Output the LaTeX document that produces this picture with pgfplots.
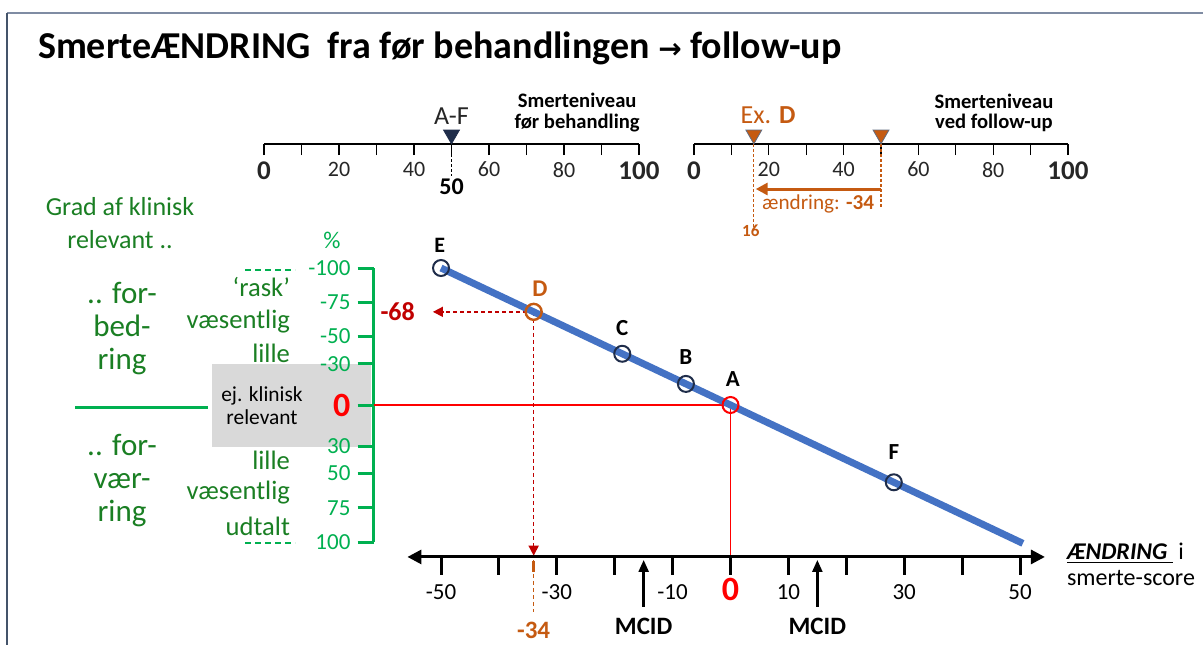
\documentclass[border=0pt]{standalone}
\usepackage{pgfplots}
\pgfplotsset{compat=1.18}
\usepackage{fontspec}
\setmainfont{Carlito}
\newfontfamily\dejavu{DejaVu Sans}
\usetikzlibrary{arrows.meta}

\definecolor{lineblue}{HTML}{4472C4}
\definecolor{navy}{HTML}{1F2D4A}
\definecolor{exorange}{HTML}{C55A11}
\definecolor{darkred}{HTML}{C00000}
\definecolor{ltgreen}{HTML}{00B050}
\definecolor{dkgreen}{HTML}{1A7F23}
\definecolor{boxgray}{HTML}{D9D9D9}
\definecolor{frametop}{HTML}{7F8CA3}
\definecolor{frameleft}{HTML}{44546A}

\newcommand{\fs}[2]{\fontsize{#1}{#2}\selectfont}

\begin{document}
\begin{tikzpicture}
\fill[white] (0,0) rectangle (601.5pt,322.5pt);

% grey box behind the green scale (pixel coordinates, y downwards)
\begin{scope}[x=0.5pt, y=-0.5pt, shift={(0pt,322.5pt)}]
  \fill[boxgray] (212,364) rectangle (371,447);
\end{scope}

% main chart: x = change in pain score, y = % change
\begin{axis}[
    at={(348.375pt,120pt)}, anchor=center,
    scale only axis, width=323.25pt, height=137pt,
    xmin=-61.66, xmax=50, ymin=-100, ymax=100, y dir=reverse,
    hide x axis, axis y line*=left,
    y axis line style={ltgreen, line width=1.5pt},
    ytick={-100,-75,-50,-30,0,30,50,75,100},
    yticklabels={-100,-75,-50,-30,{\fs{17pt}{17pt}\bfseries\color{red}0},30,50,75,100},
    yticklabel style={text=ltgreen, font=\fs{11.5pt}{12pt}},
    ytick style={ltgreen, line width=1.5pt},
    tick align=outside, major tick length=8pt,
    clip=false,
  ]
  % guide lines through A
  \draw[red, line width=0.6pt] (axis cs:-61.66,0) -- (axis cs:0,0) -- (axis cs:0,110.9);
  % guide lines through D
  \draw[darkred, dash pattern=on 2pt off 1.5pt, line width=0.8pt, -{Triangle[length=5pt,width=5pt]}]
    (axis cs:-34,-68) -- (axis cs:-51.4,-68);
  \draw[darkred, dash pattern=on 2pt off 1.5pt, line width=0.8pt, -{Triangle[length=5pt,width=5pt]}]
    (axis cs:-34,-68) -- (axis cs:-34,110);
  \draw[exorange, dash pattern=on 2pt off 1.5pt, line width=0.6pt] (axis cs:-34,113) -- (axis cs:-34,151);

  \addplot[lineblue, line width=3.5pt] coordinates {(-50,-100) (50.5,101)};
  \addplot[only marks, mark=o, mark size=4pt, mark options={navy, line width=1pt}]
    coordinates {(-50,-100) (-18.7,-37.4) (-7.7,-15.4) (28.2,56.4)};
  \addplot[only marks, mark=o, mark size=4pt, mark options={exorange, line width=1.2pt}]
    coordinates {(-34,-68)};
  \addplot[only marks, mark=o, mark size=4pt, mark options={red, line width=1pt}]
    coordinates {(0,0)};

  % point labels
  \node[font=\fs{11pt}{12pt}\bfseries] at (axis cs:-50.2,-116.8) {E};
  \node[font=\fs{12pt}{12pt}\bfseries, exorange] at (axis cs:-32.9,-84.7) {D};
  \node[font=\fs{11.5pt}{12pt}\bfseries] at (axis cs:-18.7,-56.2) {C};
  \node[font=\fs{11.5pt}{12pt}\bfseries] at (axis cs:-7.7,-35) {B};
  \node[font=\fs{11.5pt}{12pt}\bfseries] at (axis cs:0.4,-19) {A};
  \node[font=\fs{11.5pt}{12pt}\bfseries] at (axis cs:28.2,34.3) {F};
  \node[anchor=east, font=\fs{13pt}{13pt}\bfseries, darkred] at (axis cs:-53.3,-68) {-68};

  % horizontal change axis
  \draw[line width=1.5pt, {Triangle[length=7pt,width=7pt]}-{Triangle[length=7pt,width=7pt]}]
    (axis cs:-55.8,110.9) -- (axis cs:54.3,110.9);
  \pgfplotsinvokeforeach{-50,-40,...,50}{
    \draw[line width=1.5pt] (axis cs:#1,110.9) -- (axis cs:#1,124);
  }
  \pgfplotsinvokeforeach{-50,-30,-10,10,30,50}{
    \node[font=\fs{11.5pt}{12pt}] at (axis cs:#1,136.5) {#1};
  }
  \node[font=\fs{17pt}{17pt}\bfseries, red] at (axis cs:0,135) {0};
  \draw[exorange, line width=1.5pt] (axis cs:-34,113.5) -- (axis cs:-34,122);
  \node[font=\fs{12.5pt}{13pt}\bfseries, exorange] at (axis cs:-34,164.2) {-34};
  \pgfplotsinvokeforeach{-15,15}{
    \draw[line width=1.2pt, -{Triangle[length=6pt,width=5pt]}] (axis cs:#1,147.4) -- (axis cs:#1,113.1);
    \node[font=\fs{12.5pt}{13pt}\bfseries] at (axis cs:#1,161.3) {MCID};
  }
  \node[anchor=west, font=\fs{12pt}{12pt}] at (axis cs:56.9,108)
    {\underline{\bfseries\itshape ÆNDRING~} i};
  \node[anchor=west, font=\fs{12pt}{12pt}] at (axis cs:56.9,126.3) {smerte-score};
\end{axis}

% pain level before treatment
\begin{axis}[
    at={(132pt,250.5pt)}, anchor=south west,
    scale only axis, width=187.5pt, height=20pt,
    xmin=0, xmax=100, ymin=0, ymax=1,
    axis y line=none, axis x line*=bottom,
    xtick={0,10,...,100},
    xticklabels={{\fs{13.5pt}{14pt}\bfseries 0},,20,,40,,60,,80,,{\fs{13.5pt}{14pt}\bfseries 100}},
    tick align=outside, major tick length=5.5pt,
    xtick style={black, line width=0.6pt},
    x axis line style={black, line width=0.6pt},
    xticklabel style={font=\fs{11pt}{12pt}, text=black!85},
    clip=false,
  ]
  \draw[dash pattern=on 1.5pt off 1pt, line width=0.6pt] (axis cs:50,0) -- ([yshift=-16pt]axis cs:50,0);
  \addplot[only marks, mark=triangle*, mark size=4.6pt,
    mark options={rotate=180, fill=navy, draw=navy}] coordinates {(50,0.235)};
  \node[font=\fs{12pt}{12pt}\bfseries] at ([yshift=-21.5pt]axis cs:50,0) {50};
  \node[font=\fs{13pt}{13pt}, text=black!85] at (axis cs:50,0.7) {A-F};
  \node[font=\fs{10.3pt}{10.3pt}\bfseries, align=center] at (axis cs:83.5,0.78)
    {Smerteniveau\\før behandling};
\end{axis}

% pain level at follow-up
\begin{axis}[
    at={(347pt,250.5pt)}, anchor=south west,
    scale only axis, width=187pt, height=20pt,
    xmin=0, xmax=100, ymin=0, ymax=1,
    axis y line=none, axis x line*=bottom,
    xtick={0,10,...,100},
    xticklabels={{\fs{13.5pt}{14pt}\bfseries 0},,20,,40,,60,,80,,{\fs{13.5pt}{14pt}\bfseries 100}},
    tick align=outside, major tick length=5.5pt,
    xtick style={black, line width=0.6pt},
    x axis line style={black, line width=0.6pt},
    xticklabel style={font=\fs{11pt}{12pt}, text=black!85},
    clip=false,
  ]
  \draw[exorange, dash pattern=on 1.5pt off 1pt, line width=0.6pt] (axis cs:16,0) -- ([yshift=-42pt]axis cs:16,0);
  \draw[exorange, dash pattern=on 1.5pt off 1pt, line width=0.6pt] (axis cs:50,0) -- ([yshift=-32.5pt]axis cs:50,0);
  \draw[exorange, line width=1.5pt, -{Triangle[length=6pt,width=6pt]}]
    ([yshift=-22.5pt]axis cs:50,0) -- ([yshift=-22.5pt]axis cs:16.5,0);
  \addplot[only marks, mark=triangle*, mark size=4.6pt,
    mark options={rotate=180, fill=exorange, draw=navy!70}] coordinates {(16,0.235) (50,0.235)};
  \node[font=\fs{10.6pt}{11pt}, exorange] at ([yshift=-30pt]axis cs:33.2,0) {ændring: \textbf{-34}};
  \node[font=\fs{8.5pt}{9pt}\bfseries, exorange] at ([yshift=-43.5pt]axis cs:15.2,0) {16};
  \node[font=\fs{13pt}{13pt}, exorange] at (axis cs:19.8,0.725) {Ex. \textbf{D}};
  \node[font=\fs{10.3pt}{10.3pt}\bfseries, align=center] at (axis cs:80.2,0.78)
    {Smerteniveau\\ved follow-up};
\end{axis}

% texts and frame (pixel coordinates, y downwards)
\begin{scope}[x=0.5pt, y=-0.5pt, shift={(0pt,322.5pt)}]
  \draw[frametop, line width=1.2pt] (7,13) -- (1203,13);
  \draw[frameleft, line width=1.2pt] (7,13) -- (7,645);
  \node[anchor=west, font=\fs{19pt}{22pt}\bfseries] at (31,48)
    {SmerteÆNDRING\ \ fra før behandlingen {\dejavu\fs{14pt}{14pt}\bfseries →} follow-up};

  \node[dkgreen, font=\fs{13pt}{16.5pt}, align=center] at (120,223) {Grad af klinisk\\relevant ..};
  \node[ltgreen, font=\fs{12pt}{12pt}] at (332,240) {\%};
  \draw[ltgreen, dash pattern=on 3pt off 2pt, line width=0.6pt] (245,270) -- (295,270);
  \draw[ltgreen, dash pattern=on 3pt off 2pt, line width=0.6pt] (245,543) -- (295,543);
  \node[anchor=east, dkgreen, font=\fs{13.3pt}{14pt}] at (297,287) {‘rask’};
  \node[anchor=east, dkgreen, font=\fs{13.3pt}{14pt}] at (297,322) {væsentlig};
  \node[anchor=east, dkgreen, font=\fs{13.3pt}{14pt}] at (297,353) {lille};
  \node[anchor=east, dkgreen, font=\fs{13.3pt}{14pt}] at (297,460) {lille};
  \node[anchor=east, dkgreen, font=\fs{13.3pt}{14pt}] at (297,493) {væsentlig};
  \node[anchor=east, dkgreen, font=\fs{13.3pt}{14pt}] at (297,526) {udtalt};
  \node[dkgreen, font=\fs{15.5pt}{16.5pt}, align=center] at (122,329) {.. for-\\bed-\\ring};
  \node[dkgreen, font=\fs{15.5pt}{16.5pt}, align=center] at (122,481) {.. for-\\vær-\\ring};
  \node[font=\fs{10.7pt}{11.5pt}, align=center] at (262,406) {ej. klinisk\\relevant};
  \draw[ltgreen, line width=1.5pt] (75,407) -- (208,407);
\end{scope}

\pgfresetboundingbox
\path[use as bounding box] (0,0) rectangle (601.5pt,322.5pt);
\end{tikzpicture}
\end{document}
